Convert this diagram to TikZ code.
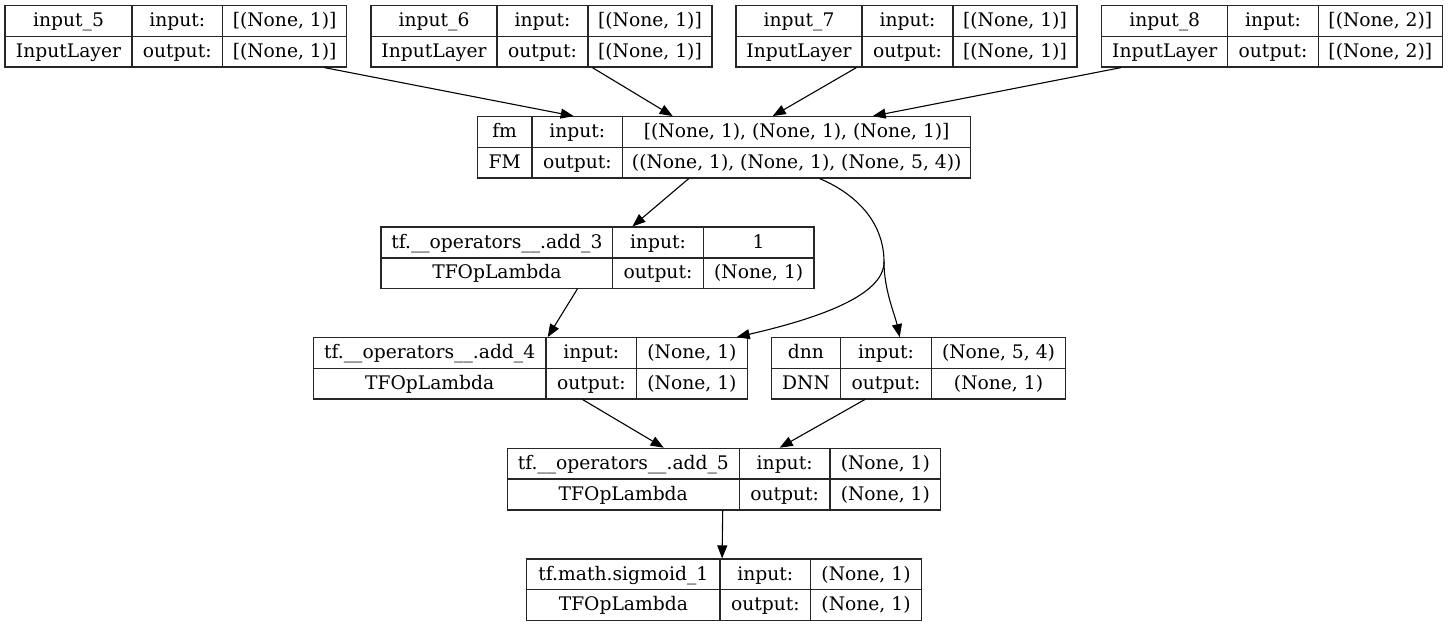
\documentclass[tikz,border=0pt]{standalone}
\usepackage{fontspec}
\setmainfont{DejaVu Serif}
\usetikzlibrary{arrows.meta,fit,calc}

% A layer box: two rows, three columns.
% #1 name, #2..#5 column edges (x), #6..#8 row edges (y)
\newcommand\layerbox[8]{%
  \node[box, fit={(#2,#6)(#5,#8)}] (#1) {};
  \draw[grid] (#3,#6) -- (#3,#8) (#4,#6) -- (#4,#8) (#2,#7) -- (#5,#7);
  \gdef\xa{#2}\gdef\xb{#3}\gdef\xc{#4}\gdef\xd{#5}%
  \gdef\ya{#6}\gdef\yb{#7}\gdef\yc{#8}}
% Cell texts of the last box: name, class, input shape, output shape
\newcommand\layertext[4]{%
  \node[cell] at ($(\xa,\ya)!.5!(\xb,\yb)$) {#1};
  \node[cell] at ($(\xa,\yb)!.5!(\xb,\yc)$) {#2};
  \node[cell] at ($(\xb,\ya)!.5!(\xc,\yb)$) {input:};
  \node[cell] at ($(\xb,\yb)!.5!(\xc,\yc)$) {output:};
  \node[cell] at ($(\xc,\ya)!.5!(\xd,\yb)$) {#3};
  \node[cell] at ($(\xc,\yb)!.5!(\xd,\yc)$) {#4};}

\begin{document}
\begin{tikzpicture}[x=1pt,y=-1pt,
  box/.style={draw=black!85, line width=1.2pt, inner sep=0pt},
  grid/.style={draw=black!85, line width=1.2pt},
  cell/.style={font=\fontsize{18.7}{22}\selectfont, inner sep=0pt,
    text height=13pt, text depth=1.4pt, anchor=center},
  link/.style={line width=1.1pt},
  arr/.style={line width=1.1pt, -{Triangle[length=13pt,width=10pt]}}]
\useasboundingbox (0,0) rectangle (1448,627);

% input layers
\layerbox{in5}{5}{132}{222.5}{346.7}{5.5}{36.5}{67}
\layertext{input\_5}{InputLayer}{[(None, 1)]}{[(None, 1)]}
\layerbox{in6}{371}{497}{588}{712}{5.5}{36.5}{67}
\layertext{input\_6}{InputLayer}{[(None, 1)]}{[(None, 1)]}
\layerbox{in7}{736}{862}{953}{1077}{5.5}{36.5}{67}
\layertext{input\_7}{InputLayer}{[(None, 1)]}{[(None, 1)]}
\layerbox{in8}{1101.7}{1227.7}{1318.3}{1442.3}{5.5}{36.5}{67}
\layertext{input\_8}{InputLayer}{[(None, 2)]}{[(None, 2)]}

% FM layer
\layerbox{fm}{477.3}{532}{622.7}{970.7}{116.7}{147.3}{178}
\layertext{fm}{FM}{[(None, 1), (None, 1), (None, 1)]}{((None, 1), (None, 1), (None, 5, 4))}

% add_3
\layerbox{add3}{381}{612.7}{703.3}{814}{227}{258}{288.3}
\layertext{tf.\_\_operators\_\_.add\_3}{TFOpLambda}{1}{(None, 1)}

% add_4 and dnn
\layerbox{add4}{313.3}{546}{636.7}{747.3}{337.7}{368.5}{399}
\layertext{tf.\_\_operators\_\_.add\_4}{TFOpLambda}{(None, 1)}{(None, 1)}
\layerbox{dnn}{771.3}{840.7}{931.3}{1065.7}{337.7}{368.5}{399}
\layertext{dnn}{DNN}{(None, 5, 4)}{(None, 1)}

% add_5
\layerbox{add5}{507.3}{739.3}{830}{940.7}{448.3}{479}{510}
\layertext{tf.\_\_operators\_\_.add\_5}{TFOpLambda}{(None, 1)}{(None, 1)}

% sigmoid
\layerbox{sig}{526.7}{720}{810.7}{921.3}{559}{589.7}{620.3}
\layertext{tf.math.sigmoid\_1}{TFOpLambda}{(None, 1)}{(None, 1)}

% connectors
\draw[arr] ([xshift=320]in5.south west) -- ([xshift=97]fm.north west);
\draw[arr] ([xshift=222]in6.south west) -- ([xshift=196]fm.north west);
\draw[arr] ([xshift=121]in7.south west) -- ([xshift=296]fm.north west);
\draw[arr] ([xshift=20]in8.south west) -- ([xshift=396]fm.north west);

\draw[arr] ([xshift=212]fm.south west) -- ([xshift=252]add3.north west);

\coordinate (split) at (884,262);
\draw[link] ([xshift=343]fm.south west) .. controls +(40,17) and (884,225) .. (split);
\draw[arr] (split) .. controls (884,295) and (820,318) .. ([xshift=424]add4.north west);
\draw[arr] (split) .. controls (884,290) and (895,315) .. ([xshift=129]dnn.north west);

\draw[arr] ([xshift=197]add3.south west) -- ([xshift=235]add4.north west);
\draw[arr] ([xshift=270]add4.south west) -- ([xshift=157]add5.north west);
\draw[arr] ([xshift=94]dnn.south west) -- ([xshift=273]add5.north west);
\draw[arr] ([xshift=216]add5.south west) -- ([xshift=196]sig.north west);
\end{tikzpicture}
\end{document}
